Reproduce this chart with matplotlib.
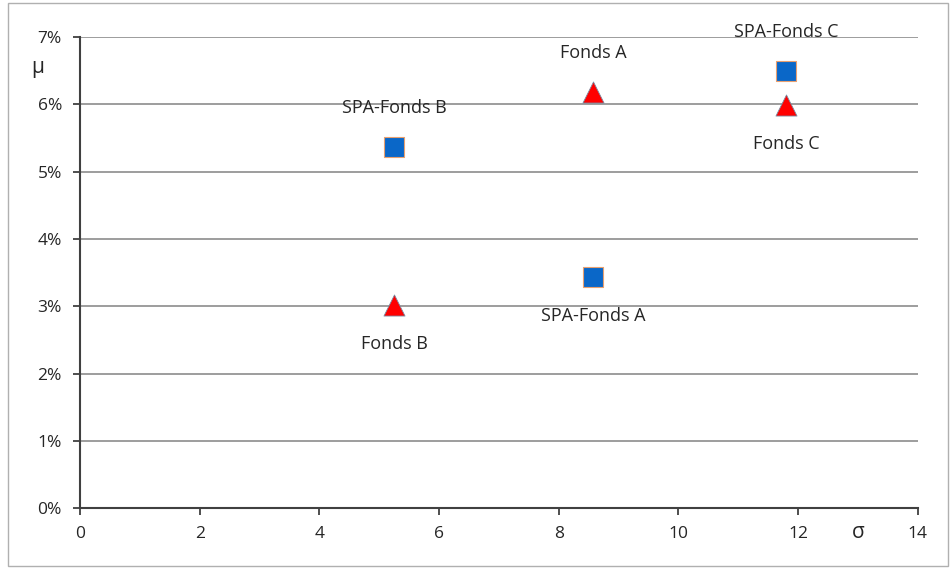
import matplotlib
matplotlib.use("Agg")
import matplotlib.pyplot as plt
from matplotlib.ticker import FuncFormatter

# Data
spa_names = ["SPA-Fonds A", "SPA-Fonds B", "SPA-Fonds C"]
spa_sigma = [8.57, 5.25, 11.8]
spa_mu = [3.43, 5.36, 6.49]
spa_pos = ["below", "above", "above"]

fonds_names = ["Fonds A", "Fonds B", "Fonds C"]
fonds_sigma = [8.57, 5.25, 11.8]
fonds_mu = [6.18, 3.02, 5.99]
fonds_pos = ["above", "below", "below"]

x_ticks = [0, 2, 4, 6, 8, 10, 12, 14]
y_ticks = [0, 1, 2, 3, 4, 5, 6, 7]

plt.rcParams['font.family'] = ['Open Sans', 'DejaVu Sans']
fig = plt.figure(figsize=(9.5, 5.69), dpi=100)
ax = fig.add_axes([0.0842, 0.107, 0.882, 0.828])

text_c = "#262626"
ax.set_xlim(0, 14)
ax.set_ylim(0, 7)
ax.set_xticks(x_ticks)
ax.set_yticks(y_ticks)
ax.yaxis.set_major_formatter(FuncFormatter(lambda v, p: f"{int(v)}%"))
ax.grid(axis='y', color='#8c8c8c', linewidth=1.2)
ax.set_axisbelow(True)
for s in ['top', 'right']:
    ax.spines[s].set_visible(False)
for s in ['left', 'bottom']:
    ax.spines[s].set_color('#404040')
    ax.spines[s].set_linewidth(1.5)
ax.tick_params(direction='out', length=5, width=1.3, color='#404040',
               labelsize=12.5, labelcolor=text_c, pad=8)

ax.scatter(spa_sigma, spa_mu, marker='s', s=200, color='#0a67c8',
           edgecolors='#e8a070', linewidths=0.8, zorder=3)
ax.scatter(fonds_sigma, fonds_mu, marker='^', s=230, color='#ff0000',
           edgecolors='#7a8aa0', linewidths=0.6, zorder=3)

def label(names, xs, ys, pos):
    for n, x, y, p in zip(names, xs, ys, pos):
        off = 28 if p == "above" else -28
        ax.annotate(n, (x, y), xytext=(0, off), textcoords='offset points',
                    ha='center', va='center', fontsize=13, color=text_c,
                    annotation_clip=False)

label(spa_names, spa_sigma, spa_mu, spa_pos)
label(fonds_names, fonds_sigma, fonds_mu, fonds_pos)

fig.text(858/950, 1 - 533/569, "σ", fontsize=15, color=text_c,
         ha='center', va='center')
fig.text(38/950, 1 - 68/569, "μ", fontsize=15, color=text_c,
         ha='center', va='center')

fig.patches.append(plt.Rectangle((0.008, 0.005), 0.99, 0.99, transform=fig.transFigure,
                                 fill=False, edgecolor='#b0b0b0', linewidth=1))

fig.savefig("out.png", dpi=100)
